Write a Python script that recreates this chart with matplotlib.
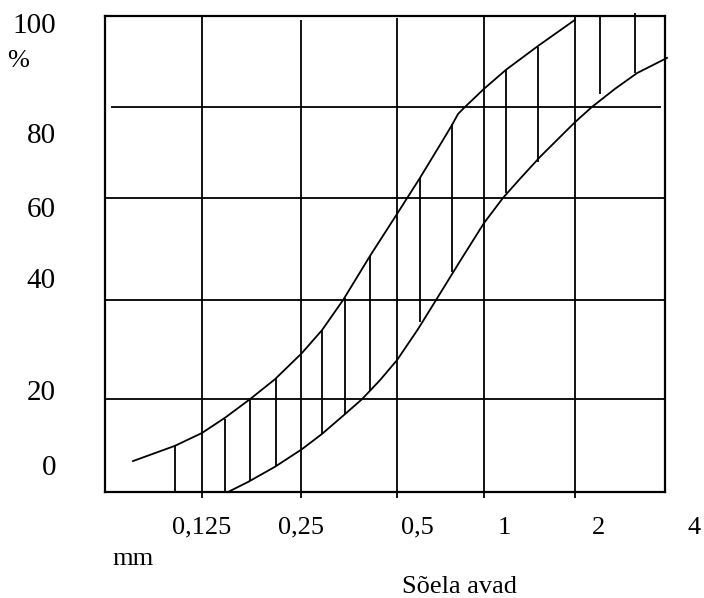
import matplotlib
matplotlib.use("Agg")
import matplotlib.pyplot as plt

plt.rcParams['font.family'] = ['Liberation Serif', 'DejaVu Serif']

# x = sõela asukoht log2 skaalal (0 = 0,125 mm), y = läbinud %
ylemine_x = [-0.740, -0.290, 0.0, 0.247, 0.515, 0.783, 1.072, 1.287, 1.512, 1.802,
             2.091, 2.338, 2.552, 2.681, 2.745, 2.810, 3.024, 3.260, 3.603, 4.0]
ylemine_y = [6.5, 9.7, 12.4, 15.6, 19.5, 23.7, 29.2, 34.0, 40.3, 49.6,
             58.4, 66.0, 72.9, 77.1, 79.4, 80.7, 84.7, 88.7, 93.7, 99.2]

alumine_x = [0.279, 0.493, 0.783, 1.072, 1.287, 1.512, 1.716, 1.909, 2.091, 2.316,
             2.509, 2.767, 3.024, 3.228, 3.410, 3.625, 4.0, 4.182, 4.429, 4.665, 4.987]
alumine_y = [0.0, 2.1, 5.3, 9.0, 12.2, 16.0, 19.5, 23.5, 27.7, 34.2,
             40.3, 48.5, 56.5, 61.8, 65.8, 70.4, 77.7, 80.9, 84.7, 88.0, 91.2]

# viirutus
viirud_x = [-0.290, 0.247, 0.515, 0.794, 1.287, 1.533, 1.802, 2.338, 2.681, 3.260, 3.603, 4.268, 4.643]
viirud_yl = [9.7, 15.3, 19.8, 24.0, 34.0, 40.8, 49.6, 66.0, 77.3, 88.7, 93.5, 99.8, 100.6]
viirud_al = [0.0, 0.0, 2.3, 5.4, 12.2, 16.4, 21.2, 35.7, 46.2, 62.8, 69.3, 83.6, 88.0]

# võrk
vert_x = [0.0, 1.06, 2.09, 3.02, 4.0]
vert_top = [100, 99.2, 99.6, 99.8, 100]
horis_y = [80.9, 61.8, 40.3, 19.5]

sildid_x = ['0,125', '0,25', '0,5', '1', '2', '4']
sildid_x_pos = [0.0, 1.06, 2.306, 3.239, 4.257, 5.276]
sildid_y = ['100', '80', '60', '40', '20', '0']
sildid_y_pos = [96.4, 73.3, 57.8, 42.9, 19.3, 3.6]

fig = plt.figure(figsize=(7.04, 5.98), dpi=100)
ax = fig.add_axes([105 / 704, 106 / 598, 560 / 704, 476 / 598])
ax.set_xlim(-1.040, 4.965)
ax.set_ylim(0, 100)
ax.set_xticks([])
ax.set_yticks([])
for s in ax.spines.values():
    s.set_linewidth(1.6)

lw = 1.3
ax.vlines(vert_x, -1.2, vert_top, color='black', lw=lw, clip_on=False)
ax.hlines(horis_y[0], -0.98, 4.92, color='black', lw=lw)
ax.hlines(horis_y[1:], -1.04, 4.965, color='black', lw=lw)

ax.plot(ylemine_x, ylemine_y, color='black', lw=lw, clip_on=False, solid_joinstyle='round')
ax.plot(alumine_x, alumine_y, color='black', lw=lw, clip_on=False, solid_joinstyle='round')
ax.vlines(viirud_x, viirud_al, viirud_yl, color='black', lw=lw, clip_on=False)

for t, y in zip(sildid_y, sildid_y_pos):
    ax.text(-1.566, y, t, ha='right', va='baseline', fontsize=21, clip_on=False)
ax.text(-2.09, 89.3, '%', ha='left', va='baseline', fontsize=19, clip_on=False)

for t, x in zip(sildid_x, sildid_x_pos):
    ax.text(x, -8.8, t, ha='center', va='baseline', fontsize=19, clip_on=False)
ax.text(-0.740, -15.3, 'mm', ha='center', va='baseline', fontsize=19, clip_on=False)
ax.text(2.761, -21.2, 'Sõela avad', ha='center', va='baseline', fontsize=19, clip_on=False)

fig.savefig('out.png', dpi=100)
